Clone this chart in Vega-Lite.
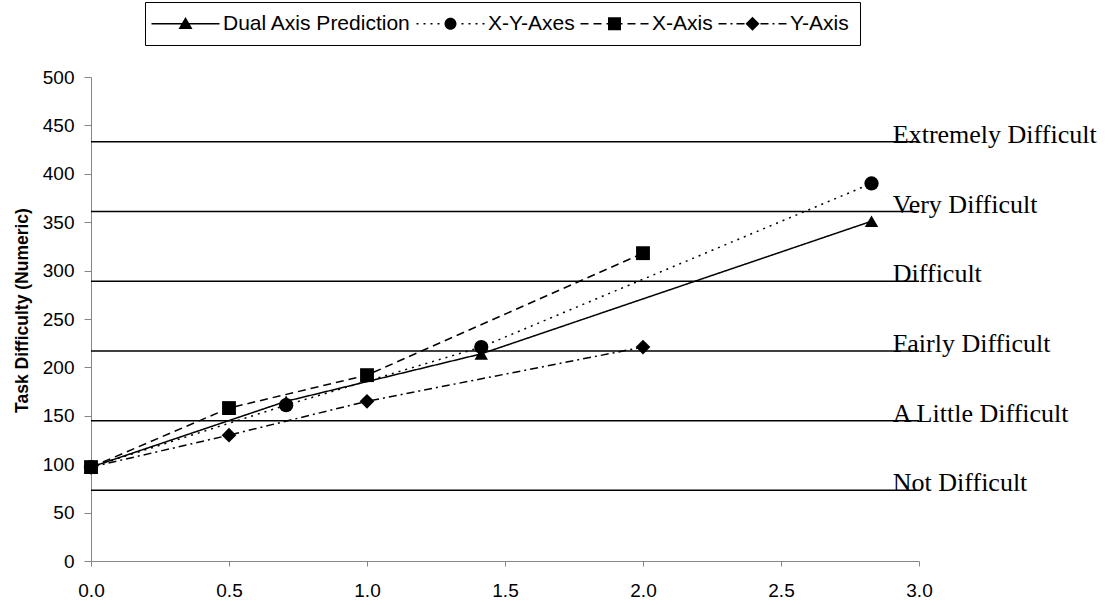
{
  "$schema": "https://vega.github.io/schema/vega-lite/v6.json",
  "width": 828,
  "height": 484,
  "autosize": {"type": "none"},
  "padding": {"left": 91, "top": 77, "right": 198, "bottom": 44},
  "background": "white",
  "config": {
    "view": {"stroke": null},
    "axis": {"grid": false, "labelFont": "Liberation Sans", "labelFontSize": 19, "labelColor": "black", "domainColor": "#868686", "tickColor": "#868686", "domainWidth": 1, "tickWidth": 1}
  },
  "datasets": {
    "series": [
      {"series": "Dual Axis Prediction", "x": 0, "y": 97},
      {"series": "Dual Axis Prediction", "x": 0.707, "y": 165},
      {"series": "Dual Axis Prediction", "x": 1.414, "y": 214},
      {"series": "Dual Axis Prediction", "x": 2.828, "y": 351},
      {"series": "X-Y-Axes", "x": 0, "y": 97},
      {"series": "X-Y-Axes", "x": 0.707, "y": 161},
      {"series": "X-Y-Axes", "x": 1.414, "y": 221},
      {"series": "X-Y-Axes", "x": 2.828, "y": 390},
      {"series": "X-Axis", "x": 0, "y": 97},
      {"series": "X-Axis", "x": 0.5, "y": 158},
      {"series": "X-Axis", "x": 1.0, "y": 192},
      {"series": "X-Axis", "x": 2.0, "y": 318},
      {"series": "Y-Axis", "x": 0, "y": 97},
      {"series": "Y-Axis", "x": 0.5, "y": 130},
      {"series": "Y-Axis", "x": 1.0, "y": 165},
      {"series": "Y-Axis", "x": 2.0, "y": 221}
    ],
    "levels": [
      {"label": "Not Difficult", "level": 73},
      {"label": "A Little Difficult", "level": 145},
      {"label": "Fairly Difficult", "level": 217},
      {"label": "Difficult", "level": 289},
      {"label": "Very Difficult", "level": 361},
      {"label": "Extremely Difficult", "level": 433}
    ]
  },
  "resolve": {"scale": {"shape": "independent"}},
  "layer": [
    {
      "data": {"name": "levels"},
      "mark": {"type": "rule", "color": "black", "strokeWidth": 1.5},
      "encoding": {
        "y": {
          "field": "level", "type": "quantitative",
          "scale": {"domain": [0, 500], "nice": false},
          "title": "Task Difficulty (Numeric)",
          "axis": {
            "values": [0, 50, 100, 150, 200, 250, 300, 350, 400, 450, 500],
            "tickSize": 7, "labelPadding": 10,
            "titleFont": "Liberation Sans", "titleFontSize": 17.5, "titleFontWeight": "bold", "titleColor": "black",
            "titleX": -69, "titleY": 233, "titleBaseline": "middle", "titleAngle": 270
          }
        }
      }
    },
    {
      "data": {"name": "levels"},
      "mark": {"type": "text", "font": "Liberation Serif", "fontSize": 26, "align": "left", "baseline": "alphabetic", "dy": 1, "color": "black"},
      "encoding": {
        "x": {"datum": 2.905, "type": "quantitative"},
        "y": {"field": "level", "type": "quantitative", "title": "Task Difficulty (Numeric)"},
        "text": {"field": "label"}
      }
    },
    {
      "data": {"name": "series"},
      "mark": {"type": "line", "color": "black", "strokeWidth": 1.5},
      "encoding": {
        "x": {
          "field": "x", "type": "quantitative",
          "scale": {"domain": [0, 3], "nice": false},
          "title": null,
          "axis": {"values": [0, 0.5, 1, 1.5, 2, 2.5, 3], "format": ".1f", "tickSize": 5, "labelPadding": 15, "labelFlush": false, "labelOverlap": false}
        },
        "y": {"field": "y", "type": "quantitative", "title": "Task Difficulty (Numeric)"},
        "strokeDash": {
          "field": "series", "type": "nominal",
          "scale": {"range": [[1, 0], [8, 5], [2, 5], [8, 4, 2, 4]]},
          "legend": null
        }
      }
    },
    {
      "data": {"name": "series"},
      "mark": {"type": "point", "filled": true, "color": "black", "opacity": 1},
      "encoding": {
        "x": {"field": "x", "type": "quantitative", "title": null},
        "y": {"field": "y", "type": "quantitative", "title": "Task Difficulty (Numeric)"},
        "size": {
          "field": "series", "type": "nominal",
          "scale": {"range": [180, 216, 144, 190]},
          "legend": null
        },
        "shape": {
          "field": "series", "type": "nominal",
          "scale": {"range": ["triangle-up", "square", "circle", "diamond"]},
          "legend": null
        }
      }
    },
    {
      "data": {"name": "series"},
      "transform": [{"filter": "datum.x < 0"}],
      "mark": {"type": "point", "filled": true, "color": "black", "opacity": 1},
      "encoding": {
        "x": {"field": "x", "type": "quantitative", "title": null},
        "y": {"field": "y", "type": "quantitative", "title": "Task Difficulty (Numeric)"},
        "shape": {
          "field": "series", "type": "nominal",
          "scale": {
            "domain": ["Dual Axis Prediction", "X-Y-Axes", "X-Axis", "Y-Axis"],
            "range": [
              "M-6.8,-0.15H6.8V0.15H-6.8Z M0,-1.35L1.4,1.05L-1.4,1.05Z",
              "M-6.8,-0.15H-6.4V0.15H-6.8Z M-5.4,-0.15H-5V0.15H-5.4Z M-4,-0.15H-3.6V0.15H-4Z M-2.6,-0.15H-2.2V0.15H-2.6Z M2.2,-0.15H2.6V0.15H2.2Z M3.6,-0.15H4V0.15H3.6Z M5,-0.15H5.4V0.15H5Z M6.4,-0.15H6.8V0.15H6.4Z M1.2,0A1.2,1.2,0,1,1,-1.2,0A1.2,1.2,0,1,1,1.2,0Z",
              "M-6.8,-0.15H-5.2V0.15H-6.8Z M-4.2,-0.15H-2.6V0.15H-4.2Z M-1.6,-0.15H1.6V0.15H-1.6Z M2.6,-0.15H4.2V0.15H2.6Z M5.2,-0.15H6.8V0.15H5.2Z M-1.3,-1.3H1.3V1.3H-1.3Z",
              "M-6.8,-0.15H-5.2V0.15H-6.8Z M-4.4,-0.15H-4V0.15H-4.4Z M-3.2,-0.15H-1.6V0.15H-3.2Z M1.6,-0.15H3.2V0.15H1.6Z M4,-0.15H4.4V0.15H4Z M5.2,-0.15H6.8V0.15H5.2Z M0,-1.4L1.4,0L0,1.4L-1.4,0Z"
            ]
          },
          "legend": {
            "orient": "none", "legendX": 54, "legendY": -75,
            "direction": "horizontal",
            "title": null,
            "padding": 11,
            "strokeColor": "black", "fillColor": "white",
            "labelFont": "Liberation Sans", "labelFontSize": 21, "labelColor": "black", "labelLimit": 400,
            "symbolSize": 100, "symbolOffset": 19, "labelOffset": 27, "columnPadding": 5,
            "symbolStrokeWidth": 0, "symbolFillColor": "black"
          }
        }
      }
    }
  ]
}
